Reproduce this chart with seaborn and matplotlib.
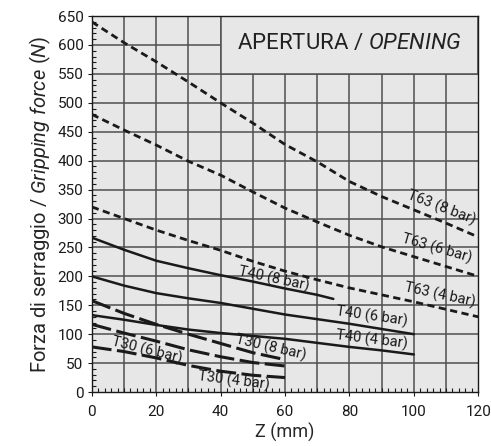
import pandas as pd
import matplotlib
matplotlib.use("Agg")
import matplotlib.pyplot as plt
import matplotlib.patches as patches
from matplotlib.ticker import MultipleLocator
import seaborn as sns

# curves (Z in mm, force in N)
z_t63 = [0, 10, 20, 30, 40, 50, 60, 70, 80, 90, 100, 110, 120]
t63_8 = [640, 604, 571, 536, 500, 465, 428, 398, 364, 338, 315, 292, 268]
t63_6 = [480, 453, 427, 399, 375, 346, 318, 294, 271, 251, 234, 217, 200]
t63_4 = [320, 300, 280, 262, 245, 226, 209, 194, 180, 168, 156, 143, 130]

z_t40_8 = [0, 10, 20, 30, 40, 50, 60, 70, 75]
t40_8 = [267, 246, 227, 214, 202, 191, 179, 168, 161]
z_t40 = [0, 10, 20, 30, 40, 50, 60, 70, 80, 90, 100]
t40_6 = [200, 184, 171, 162, 154, 144, 134, 126, 118, 109, 100]
t40_4 = [133, 125, 116, 108, 102, 97, 92, 85, 78, 72, 65]

z_t30 = [0, 10, 20, 30, 40, 50, 60]
t30_8 = [158, 136, 117, 100, 84, 68, 56]
t30_6 = [117, 102, 88, 73, 61, 51, 45]
t30_4 = [78, 70, 59, 46, 36, 29, 25]

names = ["T63 (8 bar)", "T63 (6 bar)", "T63 (4 bar)",
         "T40 (8 bar)", "T40 (6 bar)", "T40 (4 bar)",
         "T30 (8 bar)", "T30 (6 bar)", "T30 (4 bar)"]
xs = [z_t63, z_t63, z_t63, z_t40_8, z_t40, z_t40, z_t30, z_t30, z_t30]
ys = [t63_8, t63_6, t63_4, t40_8, t40_6, t40_4, t30_8, t30_6, t30_4]

# label placement (x, y, angle)
label_pos = [(108.5, 318, -21), (107, 248, -16), (108, 168, -12),
             (56.6, 196, -12), (87, 130, -8), (87, 90, -7),
             (55.5, 76, -13), (17, 72, -14), (44, 20, -7)]

sns.set_theme(style="ticks")
plt.rcParams['font.family'] = ['Roboto', 'DejaVu Sans']
plt.rcParams['mathtext.fontset'] = 'custom'
plt.rcParams['mathtext.rm'] = 'Roboto'
plt.rcParams['mathtext.it'] = 'Roboto:italic'

bg = '#e7e7e7'
grid_c = '#4f4f4f'
ink = '#1a1a1a'

fig = plt.figure(figsize=(4.91, 4.46), dpi=100)
ax = fig.add_axes([0.187, 0.121, 0.787, 0.843])
ax.set_facecolor(bg)

for name, x, y in zip(names, xs, ys):
    df = pd.DataFrame({'Z': x, 'F': y})
    if name.startswith('T63'):
        ls = (0, (2.6, 1.6))
        lw = 2.0
    elif name.startswith('T40'):
        ls = '-'
        lw = 1.8
    else:
        ls = (0, (6.5, 1.8))
        lw = 2.2
    sns.lineplot(data=df, x='Z', y='F', ax=ax, color=ink, linewidth=lw, linestyle=ls)

for name, (lx, ly, rot) in zip(names, label_pos):
    ax.text(lx, ly, name, fontsize=10.5, rotation=rot, rotation_mode='anchor',
            ha='center', va='center', color=ink, zorder=3)

ax.set_xlim(0, 120)
ax.set_ylim(0, 650)
ax.xaxis.set_major_locator(MultipleLocator(20))
ax.xaxis.set_minor_locator(MultipleLocator(2))
ax.yaxis.set_major_locator(MultipleLocator(50))
ax.yaxis.set_minor_locator(MultipleLocator(10))
ax.tick_params(which='major', direction='out', length=3, width=0.8, labelsize=11, colors=ink)
ax.tick_params(axis='x', which='major', pad=6)
ax.tick_params(axis='y', which='major', pad=3)
ax.tick_params(which='minor', direction='in', length=3, width=0.8, colors=ink)

# grid every 10 mm and 50 N
for gx in range(10, 120, 10):
    ax.axvline(gx, color=grid_c, lw=1.1, zorder=0.5)
for gy in range(50, 650, 50):
    ax.axhline(gy, color=grid_c, lw=1.1, zorder=0.5)

for sp in ax.spines.values():
    sp.set_color(ink)
    sp.set_linewidth(1.0)

box = patches.Rectangle((40, 550), 80, 100, facecolor=bg, edgecolor=grid_c, lw=1.1, zorder=1)
ax.add_patch(box)
ax.text(80, 603, r"APERTURA / $\mathit{OPENING}$", fontsize=16, ha='center', va='center', color='#222222', zorder=3)

ax.set_xlabel("Z (mm)", fontsize=13, labelpad=3)
ax.set_ylabel(r"Forza di serraggio / $\mathit{Gripping\ force\ (N)}$", fontsize=14.5, labelpad=3)

fig.savefig("out.png", dpi=100)
